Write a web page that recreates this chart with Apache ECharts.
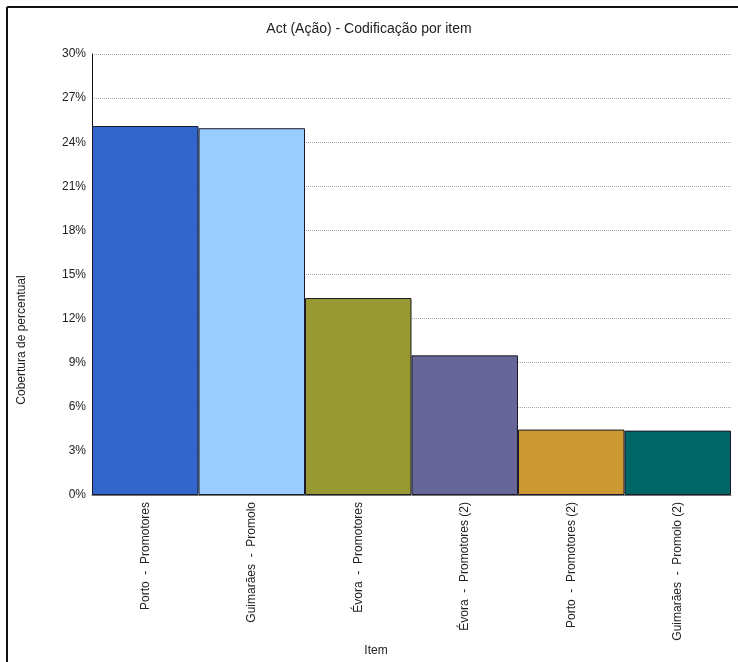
<!DOCTYPE html>
<html><head><meta charset="utf-8">
<script src="https://cdn.jsdelivr.net/npm/echarts@6/dist/echarts.min.js"></script>
<style>html,body{margin:0;padding:0;background:#fff}#c{width:738px;height:662px}</style>
</head><body><div id="c"></div>
<script>
const categories = ["Porto  -  Promotores", "Guimarães  -  Promolo", "Évora  -  Promotores", "Évora  -  Promotores (2)", "Porto  -  Promotores (2)", "Guimarães  -  Promolo (2)"];
const values = [25.1, 24.95, 13.4, 9.5, 4.45, 4.38];
const colors = ["#3366cc", "#99ccff", "#999933", "#666699", "#cc9933", "#006666"];
const yTicks = [0, 3, 6, 9, 12, 15, 18, 21, 24, 27, 30];

const chart = echarts.init(document.getElementById('c'));
const font = 'Liberation Sans, Arial, sans-serif';
chart.setOption({
  animation: false,
  backgroundColor: '#fff',
  title: {text: 'Act (Ação) - Codificação por item', left: 'center', top: 17,
    textStyle: {fontFamily: font, fontSize: 14, fontWeight: 'normal', color: '#222'}},
  grid: {left: 92, right: 7, top: 54, bottom: 167},
  graphic: [
    {type: 'line', shape: {x1: 7, y1: 7, x2: 738, y2: 7}, style: {stroke: '#111', lineWidth: 2}},
    {type: 'line', shape: {x1: 7, y1: 7, x2: 7, y2: 662}, style: {stroke: '#111', lineWidth: 2}},
    {type: 'text', x: 22, y: 340, rotation: Math.PI / 2,
      style: {text: 'Cobertura de percentual', fill: '#222', font: '12px ' + font, textAlign: 'center', textVerticalAlign: 'middle'}},
    {type: 'text', x: 376, y: 651,
      style: {text: 'Item', fill: '#222', font: '12px ' + font, textAlign: 'center', textVerticalAlign: 'middle'}}
  ],
  xAxis: {
    type: 'category', data: categories,
    axisLine: {lineStyle: {color: '#777', width: 1}},
    axisTick: {show: false},
    axisLabel: {rotate: 90, margin: 7, fontFamily: font, fontSize: 12, color: '#222', interval: 0}
  },
  yAxis: {
    type: 'value', min: yTicks[0], max: yTicks[yTicks.length - 1], interval: 3,
    axisLine: {show: true, lineStyle: {color: '#111', width: 1}},
    axisTick: {show: false},
    axisLabel: {formatter: '{value}%', fontFamily: font, fontSize: 12, color: '#222', margin: 6},
    splitLine: {lineStyle: {color: '#aaa', type: [1, 1], width: 1}}
  },
  series: [{
    type: 'bar', barCategoryGap: 0,
    data: values.map((v, i) => ({value: v, itemStyle: {color: colors[i]}})),
    itemStyle: {borderColor: '#1a1a2a', borderWidth: 1}
  }]
});
</script></body></html>
